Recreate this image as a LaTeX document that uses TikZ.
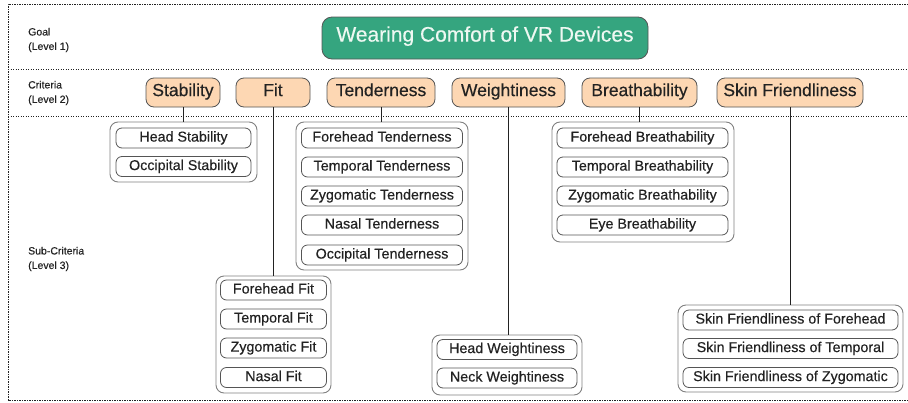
\documentclass[tikz,border=0pt]{standalone}
\usepackage{fontspec}
\setmainfont{Liberation Sans}[FakeBold=0.35]
\usetikzlibrary{positioning}

\definecolor{goalgreen}{HTML}{35A57F}
\definecolor{goaltext}{HTML}{EEF8F2}
\definecolor{critfill}{HTML}{FDD7B3}
\definecolor{edgegray}{HTML}{555555}
\definecolor{groupgray}{HTML}{808080}
\definecolor{inkgray}{HTML}{222222}

\tikzset{
  goalbox/.style={draw=edgegray, fill=goalgreen, rounded corners=10pt, line width=0.8pt,
    text=goaltext, font=\fontsize{21}{24}\selectfont, inner sep=0pt,
    text height=0.716em, text depth=0em},
  critbox/.style={draw=edgegray, fill=critfill, rounded corners=8pt, line width=0.8pt,
    text=inkgray, font=\fontsize{17.5}{20}\selectfont, inner sep=0pt, minimum height=29pt,
    text height=0.716em, text depth=0em},
  groupbox/.style={draw=groupgray, rounded corners=8pt, line width=0.9pt, inner sep=0pt},
  itembox/.style={draw=edgegray, rounded corners=6pt, line width=0.8pt, fill=white,
    text=inkgray, font=\fontsize{14.3}{16}\selectfont, inner sep=0pt, minimum height=20pt,
    text height=0.716em, text depth=0em},
  levellabel/.style={anchor=west, align=left, text=inkgray,
    font=\fontsize{10.5}{14.5}\selectfont, inner sep=0pt},
  sepline/.style={draw=inkgray, line width=0.8pt, dash pattern=on 1.2pt off 1.3pt},
  linkline/.style={draw=inkgray, line width=0.9pt}
}

\begin{document}
\begin{tikzpicture}[x=1pt, y=-1pt]
\useasboundingbox (0,0) rectangle (908,402);

% level separators
\coordinate (fTL) at (8,4);
\coordinate (fBL) at (8,400);
\coordinate (fTR) at (908,4);
\coordinate (fBR) at (908,400);
\coordinate (s1L) at (8,69);
\coordinate (s1R) at (908,69);
\coordinate (s2L) at (8,116);
\coordinate (s2R) at (908,116);
\draw[sepline] (fTR) -- (fTL) -- (fBL) -- (fBR);
\draw[sepline] (s1L) -- (s1R);
\draw[sepline] (s2L) -- (s2R);

% level labels
\node[levellabel] (lab1) at (28,40) {Goal\\(Level 1)};
\node[levellabel] (lab2) at (28,93) {Criteria\\(Level 2)};
\node[levellabel] (lab3) at (28,259) {Sub-Criteria\\(Level 3)};

% goal
\node[goalbox, minimum width=326pt, minimum height=42pt] (goal) at (485,38) {Wearing Comfort of VR Devices};

% criteria
\node[critbox, minimum width=74pt]  (cStab) at (183,92.5) {Stability};
\node[critbox, minimum width=74pt]  (cFit)  at (273,92.5) {Fit};
\node[critbox, minimum width=108pt] (cTen)  at (381,92.5) {Tenderness};
\node[critbox, minimum width=113pt] (cWei)  at (508.5,92.5) {Weightiness};
\node[critbox, minimum width=115pt] (cBre)  at (639.5,92.5) {Breathability};
\node[critbox, minimum width=146pt] (cSkin) at (790,92.5) {Skin Friendliness};

% sub-criteria groups
\node[groupbox, minimum width=147pt, minimum height=60pt]  (gStab) at (183.5,152) {};
\node[groupbox, minimum width=172pt, minimum height=148pt] (gTen)  at (382,196) {};
\node[groupbox, minimum width=182pt, minimum height=120pt] (gBre)  at (643,182) {};
\node[groupbox, minimum width=115pt, minimum height=117pt] (gFit)  at (273.5,334.5) {};
\node[groupbox, minimum width=150pt, minimum height=60pt]  (gWei)  at (507,365) {};
\node[groupbox, minimum width=225pt, minimum height=87pt]  (gSkin) at (790.5,348.5) {};

% stability items
\node[itembox, minimum width=135pt] (sHead) at (183.5,138) {Head Stability};
\node[itembox, minimum width=135pt] (sOcc)  at (183.5,166.5) {Occipital Stability};

% tenderness items
\node[itembox, minimum width=161pt] (tFore) at (382,138) {Forehead Tenderness};
\node[itembox, minimum width=161pt] (tTemp) at (382,167) {Temporal Tenderness};
\node[itembox, minimum width=161pt] (tZyg)  at (382,196) {Zygomatic Tenderness};
\node[itembox, minimum width=161pt] (tNas)  at (382,225) {Nasal Tenderness};
\node[itembox, minimum width=161pt] (tOcc)  at (382,255) {Occipital Tenderness};

% breathability items
\node[itembox, minimum width=171pt] (bFore) at (642.5,138) {Forehead Breathability};
\node[itembox, minimum width=171pt] (bTemp) at (642.5,167) {Temporal Breathability};
\node[itembox, minimum width=171pt] (bZyg)  at (642.5,196) {Zygomatic Breathability};
\node[itembox, minimum width=171pt] (bEye)  at (642.5,225) {Eye Breathability};

% fit items
\node[itembox, minimum width=106pt] (fFore) at (273.5,290) {Forehead Fit};
\node[itembox, minimum width=106pt] (fTemp) at (273.5,319) {Temporal Fit};
\node[itembox, minimum width=106pt] (fZyg)  at (273.5,348) {Zygomatic Fit};
\node[itembox, minimum width=106pt] (fNas)  at (273.5,377.5) {Nasal Fit};

% weightiness items
\node[itembox, minimum width=140pt] (wHead) at (507,349.5) {Head Weightiness};
\node[itembox, minimum width=140pt] (wNeck) at (507,378) {Neck Weightiness};

% skin friendliness items
\node[itembox, minimum width=215pt] (kFore) at (790.5,320) {Skin Friendliness of Forehead};
\node[itembox, minimum width=215pt] (kTemp) at (790.5,348.5) {Skin Friendliness of Temporal};
\node[itembox, minimum width=215pt] (kZyg)  at (790.5,377.5) {Skin Friendliness of Zygomatic};

% criterion-to-group links
\draw[linkline] (cStab.south) -- (cStab.south |- gStab.north);
\draw[linkline] (cFit.south)  -- (cFit.south  |- gFit.north);
\draw[linkline] (cTen.south)  -- (cTen.south  |- gTen.north);
\draw[linkline] (cWei.south)  -- (cWei.south  |- gWei.north);
\draw[linkline] (cBre.south)  -- (cBre.south  |- gBre.north);
\draw[linkline] (cSkin.south) -- (cSkin.south |- gSkin.north);
\end{tikzpicture}
\end{document}
